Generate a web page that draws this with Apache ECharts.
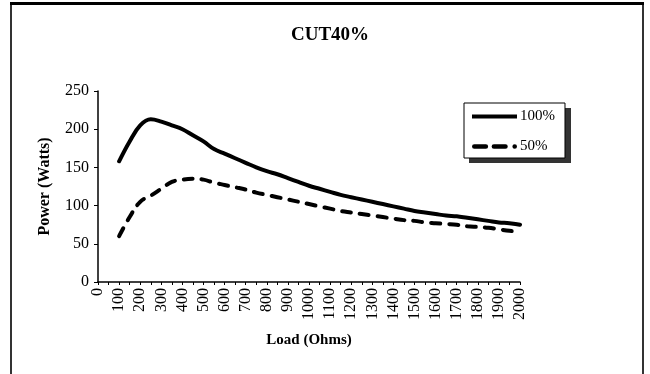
<!DOCTYPE html>
<html>
<head>
<meta charset="utf-8">
<script src="https://cdn.jsdelivr.net/npm/echarts@6/dist/echarts.min.js"></script>
<style>
  html, body { margin: 0; padding: 0; background: #fff; }
  #chart { width: 650px; height: 374px; }
</style>
</head>
<body>
<div id="chart"></div>
<script>
// load in ohms (one reading every 50 ohms), power in watts
var loads = [100, 150, 200, 250, 300, 350, 400, 450, 500, 550,
             600, 650, 700, 750, 800, 850, 900, 950, 1000, 1050,
             1100, 1150, 1200, 1250, 1300, 1350, 1400, 1450, 1500, 1550,
             1600, 1650, 1700, 1750, 1800, 1850, 1900, 1950, 2000];
var power100 = [158, 184, 205, 213, 210, 205, 200, 192, 184, 174,
                168, 162, 156, 150, 145, 141, 136, 131, 126, 122,
                118, 114, 111, 108, 105, 102, 99, 96, 93, 91,
                89, 87, 86, 84, 82, 80, 78, 77, 75];
var power50 = [60, 85, 105, 113, 122, 131, 134, 135, 134, 130,
               127, 124, 121, 117, 114, 111, 108, 105, 102, 99,
               96, 93, 91, 89, 87, 85, 83, 81, 80, 78,
               77, 76, 75, 73, 72, 71, 69, 67, 66];
var seriesNames = ['100%', '50%'];

var font = 'Liberation Serif';

function pairs(ys) {
    return loads.map(function (x, i) { return [x, ys[i]]; });
}

// legend icons: a solid bar, and dash-dash-dot like the plotted dashed line
var solidIcon = 'path://M0,0 L45,0 L45,4 L0,4 Z';
var dashIcon = 'path://M2,0 L12,0 A2,2 0 0 1 12,4 L2,4 A2,2 0 0 1 2,0 Z ' +
    'M19,0 L29,0 A2,2 0 0 1 29,4 L19,4 A2,2 0 0 1 19,0 Z ' +
    'M37,0 A2,2 0 0 1 37,4 A2,2 0 0 1 37,0 Z';

var chart = echarts.init(document.getElementById('chart'));
chart.setOption({
    animation: false,
    backgroundColor: '#fff',
    title: {
        text: 'CUT40%',
        left: 325,
        textAlign: 'center',
        top: 21,
        textStyle: { fontFamily: font, fontSize: 19, fontWeight: 'bold', color: '#000' }
    },
    legend: {
        orient: 'vertical',
        left: 464,
        top: 103,
        data: [
            { name: seriesNames[0], icon: solidIcon },
            { name: seriesNames[1], icon: dashIcon }
        ],
        itemWidth: 45,
        itemHeight: 14,
        itemGap: 15,
        padding: [6, 10, 4, 8],
        backgroundColor: '#fff',
        borderColor: '#000',
        borderWidth: 1,
        borderRadius: 0,
        itemStyle: { color: '#000', borderWidth: 0 },
        lineStyle: { width: 0 },
        textStyle: { fontFamily: font, fontSize: 15, color: '#000', padding: [0, 0, 0, -2] }
    },
    grid: { left: 98, right: 130, top: 91, bottom: 92 },
    xAxis: {
        type: 'value',
        min: 0,
        max: 2000,
        interval: 100,
        name: 'Load (Ohms)',
        nameLocation: 'middle',
        nameGap: 51,
        nameTextStyle: { fontFamily: font, fontSize: 15, fontWeight: 'bold', color: '#000' },
        axisLine: { lineStyle: { color: '#000', width: 1.5 } },
        axisTick: { inside: false, length: 3, lineStyle: { color: '#000' } },
        minorTick: { show: true, splitNumber: 2, length: 3, lineStyle: { color: '#000' } },
        splitLine: { show: false },
        axisLabel: {
            rotate: 90, margin: 6, fontFamily: font, fontSize: 16, color: '#000',
            formatter: function (v) { return String(v); }
        }
    },
    yAxis: {
        type: 'value',
        min: 0,
        max: 250,
        interval: 50,
        name: 'Power (Watts)',
        nameLocation: 'middle',
        nameGap: 45,
        nameTextStyle: { fontFamily: font, fontSize: 16, fontWeight: 'bold', color: '#000' },
        axisLine: { show: true, lineStyle: { color: '#000', width: 1.5 } },
        axisTick: { show: true, length: 4, lineStyle: { color: '#000' } },
        splitLine: { show: false },
        axisLabel: { margin: 9, fontFamily: font, fontSize: 16, color: '#000' }
    },
    series: [
        {
            name: seriesNames[0],
            type: 'line',
            data: pairs(power100),
            smooth: 0.4,
            showSymbol: false,
            symbol: 'none',
            lineStyle: { color: '#000', width: 4, cap: 'round' },
            itemStyle: { color: '#000' }
        },
        {
            name: seriesNames[1],
            type: 'line',
            data: pairs(power50),
            smooth: 0.4,
            showSymbol: false,
            symbol: 'none',
            lineStyle: { color: '#000', width: 4, type: [9, 9], cap: 'round' },
            itemStyle: { color: '#000' }
        }
    ],
    graphic: [
        { type: 'rect', shape: { x: 10, y: 2, width: 634, height: 3 }, style: { fill: '#000' }, silent: true },
        { type: 'rect', shape: { x: 10, y: 5, width: 2, height: 369 }, style: { fill: '#333' }, silent: true },
        { type: 'rect', shape: { x: 642, y: 5, width: 2, height: 369 }, style: { fill: '#333' }, silent: true },
        // drop shadow behind the legend box
        { type: 'rect', z: 1, shape: { x: 469, y: 108, width: 102, height: 55 }, style: { fill: '#333' }, silent: true }
    ]
});
</script>
</body>
</html>
